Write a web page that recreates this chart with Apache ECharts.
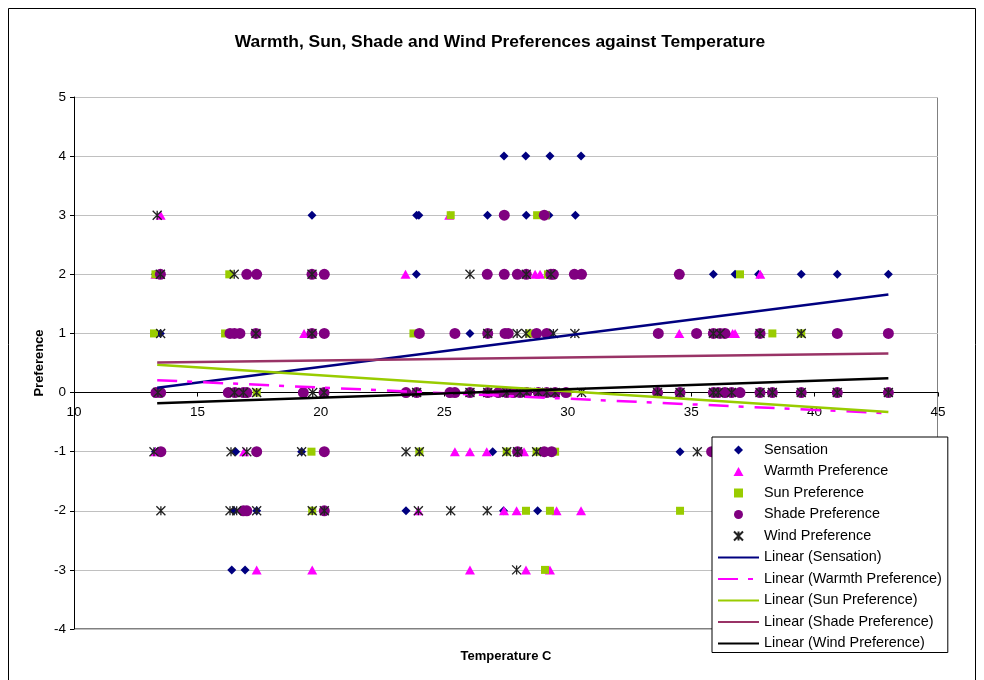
<!DOCTYPE html>
<html>
<head>
<meta charset="utf-8">
<script src="https://cdn.jsdelivr.net/npm/echarts/dist/echarts.min.js"></script>
<style>
  html, body { margin: 0; padding: 0; background: #ffffff; }
  #chart { width: 984px; height: 680px; }
</style>
</head>
<body>
<div id="chart"></div>
<script>
// Observations: [temperature in C, preference score]
const sensation = [
  [27.42, 4], [28.30, 4], [29.28, 4], [30.54, 4],
  [19.64, 3], [23.88, 3], [23.97, 3], [26.75, 3], [28.32, 3], [29.24, 3], [30.31, 3],
  [13.30, 2], [23.87, 2], [35.90, 2], [36.78, 2], [37.73, 2], [39.46, 2], [40.92, 2], [42.99, 2],
  [13.50, 1], [26.04, 1], [29.30, 1],
  [13.30, 0], [16.50, 0], [25.40, 0], [27.20, 0], [29.50, 0], [36.40, 0], [38.30, 0],
  [13.30, -1], [16.55, -1], [19.22, -1], [26.96, -1], [34.55, -1],
  [16.48, -2], [17.40, -2], [23.45, -2], [27.40, -2], [28.78, -2],
  [16.39, -3], [16.93, -3]
];

const warmth = [
  [13.51, 3], [25.20, 3],
  [13.30, 2], [23.43, 2], [28.68, 2], [28.88, 2], [37.80, 2],
  [19.32, 1], [28.70, 1], [34.52, 1], [36.68, 1], [36.78, 1],
  [13.40, 0], [17.00, 0], [25.40, 0], [28.00, 0],
  [13.30, -1], [16.89, -1], [25.43, -1], [26.04, -1], [26.72, -1], [28.23, -1],
  [23.95, -2], [27.42, -2], [27.93, -2], [29.55, -2], [30.54, -2],
  [17.40, -3], [19.65, -3], [26.04, -3], [28.31, -3], [29.28, -3]
];

const sun = [
  [25.26, 3], [28.76, 3], [29.10, 3],
  [13.30, 2], [16.29, 2], [29.20, 2], [36.98, 2],
  [13.24, 1], [16.12, 1], [23.75, 1], [28.45, 1], [38.29, 1], [39.46, 1],
  [17.40, 0], [28.90, 0], [30.00, 0],
  [19.62, -1], [23.99, -1], [27.53, -1], [28.74, -1], [29.49, -1],
  [19.65, -2], [28.31, -2], [29.28, -2], [34.55, -2],
  [29.08, -3]
];

const shade = [
  [27.43, 3], [29.05, 3],
  [13.50, 2], [17.00, 2], [17.40, 2], [19.64, 2], [20.14, 2], [26.74, 2], [27.43, 2], [27.96, 2],
  [28.32, 2], [29.32, 2], [29.42, 2], [30.27, 2], [30.56, 2], [34.52, 2],
  [16.32, 1], [16.50, 1], [16.72, 1], [17.37, 1], [19.64, 1], [20.14, 1], [23.99, 1], [25.43, 1],
  [26.76, 1], [27.46, 1], [27.59, 1], [28.74, 1], [29.15, 1], [33.67, 1], [35.22, 1], [35.90, 1],
  [36.17, 1], [36.37, 1], [37.79, 1], [40.92, 1], [42.99, 1],
  [13.32, 0], [13.51, 0], [16.25, 0], [16.52, 0], [16.86, 0], [17.00, 0], [19.29, 0], [20.13, 0],
  [23.45, 0], [23.88, 0], [25.23, 0], [25.43, 0], [26.04, 0], [26.76, 0], [27.19, 0], [27.53, 0],
  [27.80, 0], [28.07, 0], [28.34, 0], [28.81, 0], [29.15, 0], [29.49, 0], [29.93, 0], [33.64, 0],
  [34.55, 0], [35.90, 0], [36.10, 0], [36.37, 0], [36.64, 0], [36.98, 0], [37.79, 0], [38.29, 0],
  [39.46, 0], [40.92, 0], [42.99, 0],
  [13.52, -1], [17.40, -1], [20.14, -1], [27.97, -1], [29.05, -1], [29.35, -1], [35.83, -1],
  [16.86, -2], [17.00, -2], [20.14, -2]
];

const wind = [
  [13.37, 3],
  [13.50, 2], [16.49, 2], [19.64, 2], [26.04, 2], [28.32, 2], [29.32, 2],
  [13.51, 1], [17.37, 1], [19.64, 1], [26.76, 1], [27.95, 1], [28.31, 1], [29.42, 1], [30.29, 1],
  [35.90, 1], [36.17, 1], [37.79, 1], [39.46, 1],
  [13.40, 0], [16.50, 0], [16.86, 0], [17.40, 0], [19.67, 0], [20.13, 0], [23.88, 0], [26.04, 0],
  [26.76, 0], [27.53, 0], [28.07, 0], [28.34, 0], [28.81, 0], [29.15, 0], [29.49, 0], [30.56, 0],
  [33.64, 0], [34.55, 0], [35.90, 0], [36.10, 0], [36.64, 0], [37.79, 0], [38.29, 0], [39.46, 0],
  [40.92, 0], [42.99, 0],
  [13.24, -1], [16.36, -1], [17.00, -1], [19.22, -1], [23.45, -1], [23.99, -1], [27.53, -1],
  [27.97, -1], [28.74, -1], [35.25, -1],
  [13.52, -2], [16.32, -2], [16.59, -2], [17.40, -2], [19.65, -2], [20.14, -2], [23.95, -2],
  [25.26, -2], [26.74, -2],
  [27.93, -3]
];

// Linear trend lines: value at the lowest and highest temperature
const sensationTrend = [[13.37, 0.08], [42.99, 1.66]];
const warmthTrend    = [[13.37, 0.21], [42.99, -0.35]];
const sunTrend       = [[13.37, 0.47], [42.99, -0.33]];
const shadeTrend     = [[13.37, 0.51], [42.99, 0.66]];
const windTrend      = [[13.37, -0.18], [42.99, 0.24]];

const xTicks = { min: 10, max: 45, step: 5 };
const yTicks = { min: -4, max: 5, step: 1 };

const FONT = '"Liberation Sans", Arial, sans-serif';
const starPath = 'path://M0,0L10,10M10,0L0,10M5,0L5,10';
// Aspect-keeping outlines used for the legend markers
const diamondIcon = 'path://M5,0L10,5L5,10L0,5Z';
const triangleIcon = 'path://M5,0L10,9L0,9Z';
const squareIcon = 'path://M0,0L8,0L8,8L0,8Z';

const chart = echarts.init(document.getElementById('chart'), null, { renderer: 'canvas' });

function scatter(name, data, symbol, size, color, extra) {
  return Object.assign({
    name, type: 'scatter', data, symbol, symbolSize: size,
    itemStyle: { color, opacity: 1 },
    z: 2, animation: false, emphasis: { disabled: true }
  }, extra || {});
}

function trend(name, data, color, dash) {
  return {
    name, type: 'line', data, symbol: 'none', showSymbol: false,
    lineStyle: { color, width: 2.5, type: dash || 'solid', cap: 'butt' },
    itemStyle: { color },
    z: 3, animation: false, emphasis: { disabled: true }
  };
}

// Legend rows for the trend lines show only the line, no marker
function lineEntry(name) {
  return { name, itemStyle: { opacity: 0 } };
}

const option = {
  backgroundColor: '#ffffff',
  animation: false,
  title: {
    text: 'Warmth, Sun, Shade and Wind Preferences against Temperature',
    left: 500, top: 34, padding: 0, textAlign: 'center',
    textStyle: { fontFamily: FONT, fontSize: 17.4, fontWeight: 'bold', color: '#000' }
  },
  grid: { left: 74, top: 97, right: 46, bottom: 51, containLabel: false, outerBoundsMode: 'none' },
  xAxis: {
    type: 'value', min: xTicks.min, max: xTicks.max, interval: xTicks.step,
    name: 'Temperature C', nameLocation: 'middle', nameGap: 21, nameMoveOverlap: false,
    nameTextStyle: { fontFamily: FONT, fontSize: 13, fontWeight: 'bold', color: '#000' },
    axisLine: { show: true, onZero: true, lineStyle: { color: '#000', width: 1 } },
    axisTick: { show: true, inside: false, length: 4, lineStyle: { color: '#000' } },
    axisLabel: { fontFamily: FONT, fontSize: 13.5, color: '#000', margin: -224, hideOverlap: false },
    splitLine: { show: false }
  },
  yAxis: {
    type: 'value', min: yTicks.min, max: yTicks.max, interval: yTicks.step,
    name: 'Preference', nameLocation: 'middle', nameGap: 28, nameRotate: 90, nameMoveOverlap: false,
    nameTextStyle: { fontFamily: FONT, fontSize: 13, fontWeight: 'bold', color: '#000' },
    axisLine: { show: true, onZero: false, lineStyle: { color: '#000', width: 1 } },
    axisTick: { show: true, inside: false, length: 4, lineStyle: { color: '#000' } },
    axisLabel: { fontFamily: FONT, fontSize: 13.5, color: '#000', margin: 8 },
    splitLine: { show: true, lineStyle: { color: '#c0c0c0', width: 1 } }
  },
  legend: {
    orient: 'vertical', left: 712, top: 437,
    padding: [6, 6, 2, 5], itemWidth: 41, itemHeight: 9, itemGap: 7.5,
    symbolKeepAspect: true,
    backgroundColor: '#ffffff', borderColor: '#000', borderWidth: 1,
    textStyle: { fontFamily: FONT, fontSize: 14.4, color: '#000' },
    selectedMode: false,
    data: [{ name: 'Sensation', icon: diamondIcon },
           { name: 'Warmth Preference', icon: triangleIcon },
           { name: 'Sun Preference', icon: squareIcon },
           'Shade Preference', 'Wind Preference',
           lineEntry('Linear (Sensation)'), lineEntry('Linear (Warmth Preference)'),
           lineEntry('Linear (Sun Preference)'), lineEntry('Linear (Shade Preference)'),
           lineEntry('Linear (Wind Preference)')]
  },
  graphic: [
    { type: 'rect', shape: { x: 8.5, y: 8.5, width: 967, height: 700 },
      style: { fill: 'none', stroke: '#000', lineWidth: 1 }, silent: true, z: 0 },
    { type: 'rect', shape: { x: 74.5, y: 97.5, width: 863, height: 531 },
      style: { fill: 'none', stroke: '#808080', lineWidth: 1 }, silent: true, z: 0 }
  ],
  series: [
    scatter('Sensation', sensation, 'diamond', 9, '#000080'),
    scatter('Warmth Preference', warmth, 'triangle', [10, 9], '#ff00ff'),
    scatter('Sun Preference', sun, 'rect', 8, '#99cc00'),
    scatter('Shade Preference', shade, 'circle', 11, '#800080'),
    scatter('Wind Preference', wind, starPath, 9, '#222222', {
      itemStyle: { color: 'none', borderColor: '#222222', borderWidth: 1.3, opacity: 1 }
    }),
    trend('Linear (Sensation)', sensationTrend, '#000080'),
    trend('Linear (Warmth Preference)', warmthTrend, '#ff00ff', [20, 10, 5, 11]),
    trend('Linear (Sun Preference)', sunTrend, '#99cc00'),
    trend('Linear (Shade Preference)', shadeTrend, '#993366'),
    trend('Linear (Wind Preference)', windTrend, '#000000')
  ]
};

chart.setOption(option);
</script>
</body>
</html>
